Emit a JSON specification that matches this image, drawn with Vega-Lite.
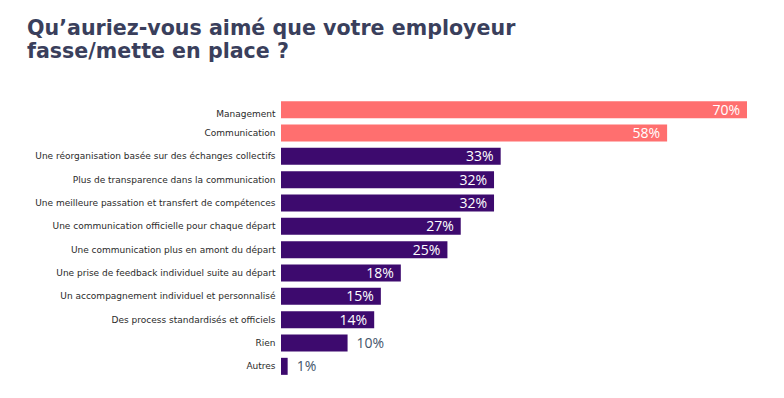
{
  "$schema": "https://vega.github.io/schema/vega-lite/v6.json",
  "width": 466,
  "height": 280,
  "autosize": {"type": "none"},
  "padding": {"left": 281, "top": 98, "right": 37, "bottom": 20},
  "background": "white",
  "title": {
    "text": ["Qu’auriez-vous aimé que votre employeur", "fasse/mette en place ?"],
    "anchor": "start",
    "frame": "group",
    "dx": -254,
    "offset": 35,
    "font": "DejaVu Sans",
    "fontSize": 20.6,
    "fontWeight": "bold",
    "color": "#3a3f5c",
    "lineHeight": 23
  },
  "config": {"view": {"stroke": null}},
  "data": {
    "values": [
      {"item": "Management", "value": 70, "label": "70%", "group": "top"},
      {"item": "Communication", "value": 58, "label": "58%", "group": "top"},
      {"item": "Une réorganisation basée sur des échanges collectifs", "value": 33, "label": "33%", "group": "other"},
      {"item": "Plus de transparence dans la communication ", "value": 32, "label": "32%", "group": "other"},
      {"item": "Une meilleure passation et transfert de compétences", "value": 32, "label": "32%", "group": "other"},
      {"item": "Une communication officielle pour chaque départ", "value": 27, "label": "27%", "group": "other"},
      {"item": "Une communication plus en amont du départ", "value": 25, "label": "25%", "group": "other"},
      {"item": "Une prise de feedback individuel suite au départ", "value": 18, "label": "18%", "group": "other"},
      {"item": "Un accompagnement individuel et personnalisé", "value": 15, "label": "15%", "group": "other"},
      {"item": "Des process standardisés et officiels", "value": 14, "label": "14%", "group": "other"},
      {"item": "Rien", "value": 10, "label": "10%", "group": "other"},
      {"item": "Autres", "value": 1, "label": "1%", "group": "other"}
    ]
  },
  "encoding": {
    "y": {
      "field": "item",
      "type": "nominal",
      "sort": null,
      "title": null,
      "scale": {"paddingInner": 0.27, "paddingOuter": 0.135},
      "axis": {
        "ticks": false,
        "domain": false,
        "labelPadding": 6,
        "labelFont": "DejaVu Sans",
        "labelFontSize": 9,
        "labelColor": "#2a2a2a",
        "labelLimit": 300,
        "labelOffset": {"condition": {"test": "datum.value === 'Management'", "value": 4}, "value": 0}
      }
    },
    "x": {
      "field": "value",
      "type": "quantitative",
      "scale": {"domain": [0, 70]},
      "axis": null
    }
  },
  "layer": [
    {
      "mark": {"type": "bar"},
      "encoding": {
        "color": {
          "field": "group",
          "type": "nominal",
          "scale": {"domain": ["top", "other"], "range": ["#ff6f6f", "#3d0a6e"]},
          "legend": null
        }
      }
    },
    {
      "transform": [{"filter": "datum.value >= 14"}],
      "mark": {"type": "text", "align": "right", "dx": -7, "font": "Open Sans", "fontSize": 14, "color": "white", "baseline": "middle", "dy": 1},
      "encoding": {"text": {"field": "label", "type": "nominal"}}
    },
    {
      "transform": [{"filter": "datum.value < 14"}],
      "mark": {"type": "text", "align": "left", "dx": 9, "font": "Open Sans", "fontSize": 14, "color": "#44546a", "baseline": "middle", "dy": 1},
      "encoding": {"text": {"field": "label", "type": "nominal"}}
    }
  ]
}
